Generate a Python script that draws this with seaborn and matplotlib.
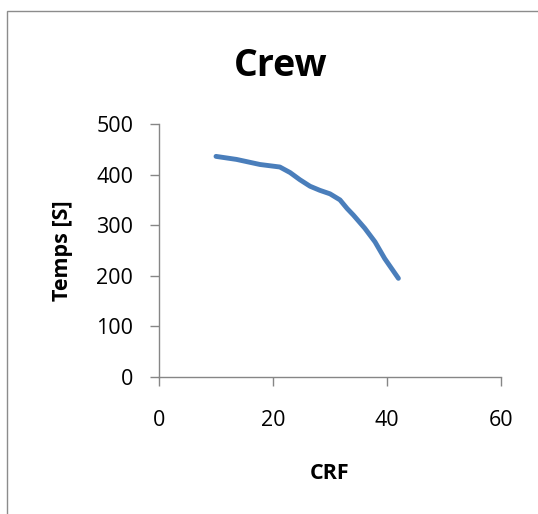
import matplotlib
matplotlib.use("Agg")
import matplotlib.pyplot as plt
import seaborn as sns
import pandas as pd
from matplotlib.patches import Rectangle

# Data
crf = [10, 13.6, 17.7, 21.2, 23.0, 24.7, 26.5, 28.2, 30.0, 31.75, 33.0, 34.1, 36.1, 37.9, 39.6, 42]
temps = [436, 430, 420, 415, 404, 390, 377, 369, 362, 350, 333, 320, 294, 267, 234, 195]
x_ticks = [0, 20, 40, 60]
y_ticks = [0, 100, 200, 300, 400, 500]
title = "Crew"
x_label = "CRF"
y_label = "Temps [S]"

sns.set_theme(style="white")
plt.rcParams['font.family'] = ['Open Sans', 'DejaVu Sans']

W, H = 538, 514
fig = plt.figure(figsize=(W / 100, H / 100), dpi=100)
fig.patch.set_facecolor("white")

left, right, top, bottom = 159, 501, 124, 377
ax = fig.add_axes([left / W, 1 - bottom / H, (right - left) / W, (bottom - top) / H])

df = pd.DataFrame({"CRF": crf, "Temps": temps})
sns.lineplot(data=df, x="CRF", y="Temps", ax=ax, sort=False, color="#4A7EBB",
             linewidth=3.5, solid_capstyle="round", solid_joinstyle="round")

ax.set_xlim(0, 60)
ax.set_ylim(0, 500)
ax.set_xticks(x_ticks)
ax.set_yticks(y_ticks)
ax.set_xticklabels([str(v) for v in x_ticks])
ax.set_yticklabels([str(v) for v in y_ticks])

gray = "#868686"
for s in ["top", "right"]:
    ax.spines[s].set_visible(False)
for s in ["left", "bottom"]:
    ax.spines[s].set_color(gray)
    ax.spines[s].set_linewidth(1.0)

ax.tick_params(axis="x", direction="out", length=6.5, width=1.0, color=gray,
               labelsize=15.5, labelcolor="black", pad=17, bottom=True)
ax.tick_params(axis="y", direction="out", length=6.5, width=1.0, color=gray,
               labelsize=15.5, labelcolor="black", pad=12, left=True)
ax.grid(False)

ax.set_xlabel(x_label, fontsize=15.5, fontweight="bold", color="black")
ax.set_ylabel(y_label, fontsize=15.5, fontweight="bold", color="black")
ax.xaxis.set_label_coords(0.5, -(463 - bottom) / (bottom - top))
ax.yaxis.set_label_coords(-(left - 73) / (right - left), 0.5 - (251 - 250.5) / (bottom - top))

fig.text(281 / W, 1 - 76 / H, title, fontsize=27, fontweight="bold",
         ha="center", va="baseline", color="black")

# Outer chart border (runs off the right and bottom edges)
fig.patches.append(Rectangle((7 / W, -0.05), 1.2, 1 - 11 / H + 0.05,
                             transform=fig.transFigure, fill=False,
                             edgecolor="#8c8c8c", linewidth=1.0))

fig.savefig("out.png", dpi=100, facecolor="white")
